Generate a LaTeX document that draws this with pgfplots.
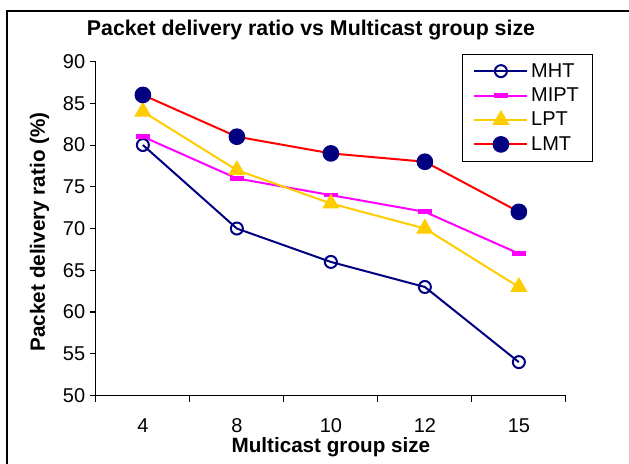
\documentclass[border=0pt]{standalone}
\usepackage{pgfplots}
\pgfplotsset{compat=1.18}
\usepackage{fontspec}
\setmainfont{Liberation Sans}
\definecolor{navyc}{RGB}{0,0,128}
\definecolor{goldc}{RGB}{255,204,0}
\definecolor{magc}{RGB}{255,0,255}
\definecolor{redc}{RGB}{255,0,0}
\begin{document}
\begin{tikzpicture}[x=0.75pt,y=0.75pt]
\useasboundingbox (0,0) rectangle (629,464);
\draw[line width=1pt] (7,0) -- (7,453) -- (629,453);
\node[font=\bfseries\fontsize{16}{18}\selectfont] at (311,434) {Packet delivery ratio vs Multicast group size};
\begin{axis}[
  at={(102,82)}, anchor=south west,
  scale only axis, width=352.5pt, height=250.5pt,
  xmin=0.5, xmax=5.5, ymin=50, ymax=90,
  xtick={0.5,1.5,2.5,3.5,4.5,5.5}, xticklabels={},
  extra x ticks={1,2,3,4,5}, extra x tick labels={4,8,10,12,15},
  extra x tick style={tick style={draw=none}},
  ytick={50,55,...,90},
  axis x line*=bottom, axis y line*=left,
  axis line style={-, line width=0.8pt},
  major tick length=4.5pt,
  tick style={black, line width=0.8pt},
  tick align=outside,
  ticklabel style={font=\fontsize{15}{17}\selectfont},
  /pgf/number format/assume math mode=true,
  xticklabel style={yshift=-9pt},
  xlabel={Multicast group size},
  ylabel={Packet delivery ratio (\%)},
  label style={font=\bfseries\fontsize{15.5}{17}\selectfont},
  xlabel style={at={(axis description cs:0.5,-0.156)}, anchor=center},
  ylabel style={at={(axis description cs:-0.12,0.49)}, anchor=center},
  legend style={at={(1.057,1.024)}, anchor=north east, draw=black, line width=0.6pt,
    font=\fontsize{15}{18}\selectfont, row sep=2.5pt, inner xsep=8pt, inner ysep=5pt},
  legend cell align=left,
  legend image code/.code={
    \draw[#1] (0cm,0cm) -- (1.4cm,0cm);
    \draw[#1,only marks] plot coordinates {(0.7cm,0cm)};
  },
]
\addplot[navyc, line width=1.5pt, mark=o, mark size=4.5pt, mark options={line width=1.5pt, fill=white}]
  coordinates {(1,80) (2,70) (3,66) (4,63) (5,54)};
\addlegendentry{MHT}
\addplot[magc, line width=1.5pt, mark=-, mark size=5pt, mark options={line width=3.5pt}]
  coordinates {(1,81) (2,76) (3,74) (4,72) (5,67)};
\addlegendentry{MIPT}
\addplot[goldc, line width=1.5pt, mark=triangle*, mark size=6pt, mark options={fill=goldc}]
  coordinates {(1,84) (2,77) (3,73) (4,70) (5,63)};
\addlegendentry{LPT}
\addplot[redc, line width=1.5pt, mark=*, mark size=5.5pt, mark options={fill=navyc, draw=navyc}]
  coordinates {(1,86) (2,81) (3,79) (4,78) (5,72)};
\addlegendentry{LMT}
\end{axis}
\end{tikzpicture}
\end{document}
